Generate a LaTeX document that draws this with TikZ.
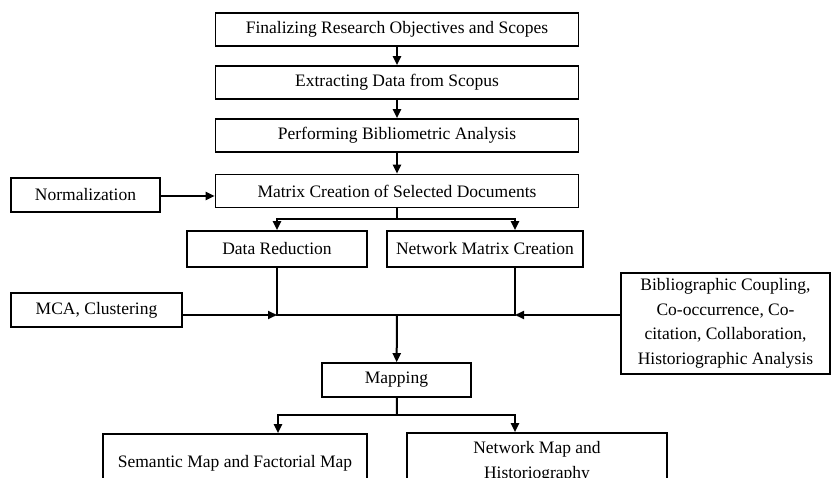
\documentclass[tikz,border=0pt]{standalone}
\usepackage{fontspec}
\setmainfont{Liberation Serif}
\usetikzlibrary{arrows.meta}

\tikzset{
  stage/.style={draw, line width=1.6pt, minimum height=33pt, inner sep=0pt,
    align=center, font=\fontsize{17.5}{24.5}\selectfont},
  flow/.style={line width=2pt, -{Triangle[length=9pt,width=8pt]}},
  link/.style={line width=2pt}
}

\begin{document}
\begin{tikzpicture}[x=1pt,y=-1pt]
\useasboundingbox (0,0) rectangle (831,478);
\clip (0,0) rectangle (831,478);

% main column
\node[stage, minimum width=363pt] (objectives) at (397,29.5) {Finalizing Research Objectives and Scopes};
\node[stage, minimum width=363pt] (extracting) at (397,82.5) {Extracting Data from Scopus};
\node[stage, minimum width=363pt] (analysis) at (397,135.5) {Performing Bibliometric Analysis};
\node[stage, minimum width=363pt] (matrix) at (397,191) {Matrix Creation of Selected Documents};
\node[stage, minimum width=149pt, minimum height=34pt] (normalization) at (85.5,195) {Normalization};

% second row
\node[stage, minimum width=180pt, minimum height=36pt] (reduction) at (277,249) {Data Reduction};
\node[stage, minimum width=196pt, minimum height=36pt] (network) at (485,249) {Network Matrix Creation};
\node[stage, minimum width=171pt, minimum height=34pt] (clustering) at (96.5,310) {MCA, Clustering};
\node[stage, minimum width=209pt, minimum height=101pt] (coupling) at (725.5,323.5)
  {Bibliographic Coupling,\\ Co-occurrence, Co-\\ citation, Collaboration,\\ Historiographic Analysis};

% mapping
\node[stage, minimum width=149pt, minimum height=34pt] (mapping) at (396.5,380) {Mapping};
\node[stage, minimum width=264pt, minimum height=58pt] (semantic) at (235,463) {Semantic Map and Factorial Map};
\node[stage, minimum width=260pt, minimum height=58pt] (netmap) at (537,462) {Network Map and\\ Historiography};

\coordinate (split1) at (397,219);
\coordinate (join) at (397,315);
\coordinate (split2) at (397,415);

\draw[flow] (objectives) -- (extracting);
\draw[flow] (extracting) -- (analysis);
\draw[flow] (analysis) -- (matrix);
\draw[flow] (normalization.east |- 0,196) -- (matrix.west |- 0,196);

\draw[link] (matrix) -- (split1);
\draw[flow] (split1) -| (reduction.north);
\draw[flow] (split1) -| ([xshift=30pt]network.north);

\draw[link] (reduction.south) -- (reduction.south |- join)
  -- ([xshift=30pt]network.south |- join) -- ([xshift=30pt]network.south);
\draw[flow] (clustering.east |- join) -- (reduction.south |- join);
\draw[flow] (coupling.west |- join) -- ([xshift=30pt]network.south |- join);
\draw[flow] (join) -- (mapping);

\draw[link] (mapping) -- (split2);
\draw[flow] (split2) -| ([xshift=43pt]semantic.north);
\draw[flow] (split2) -| ([xshift=-22pt]netmap.north);
\end{tikzpicture}
\end{document}
